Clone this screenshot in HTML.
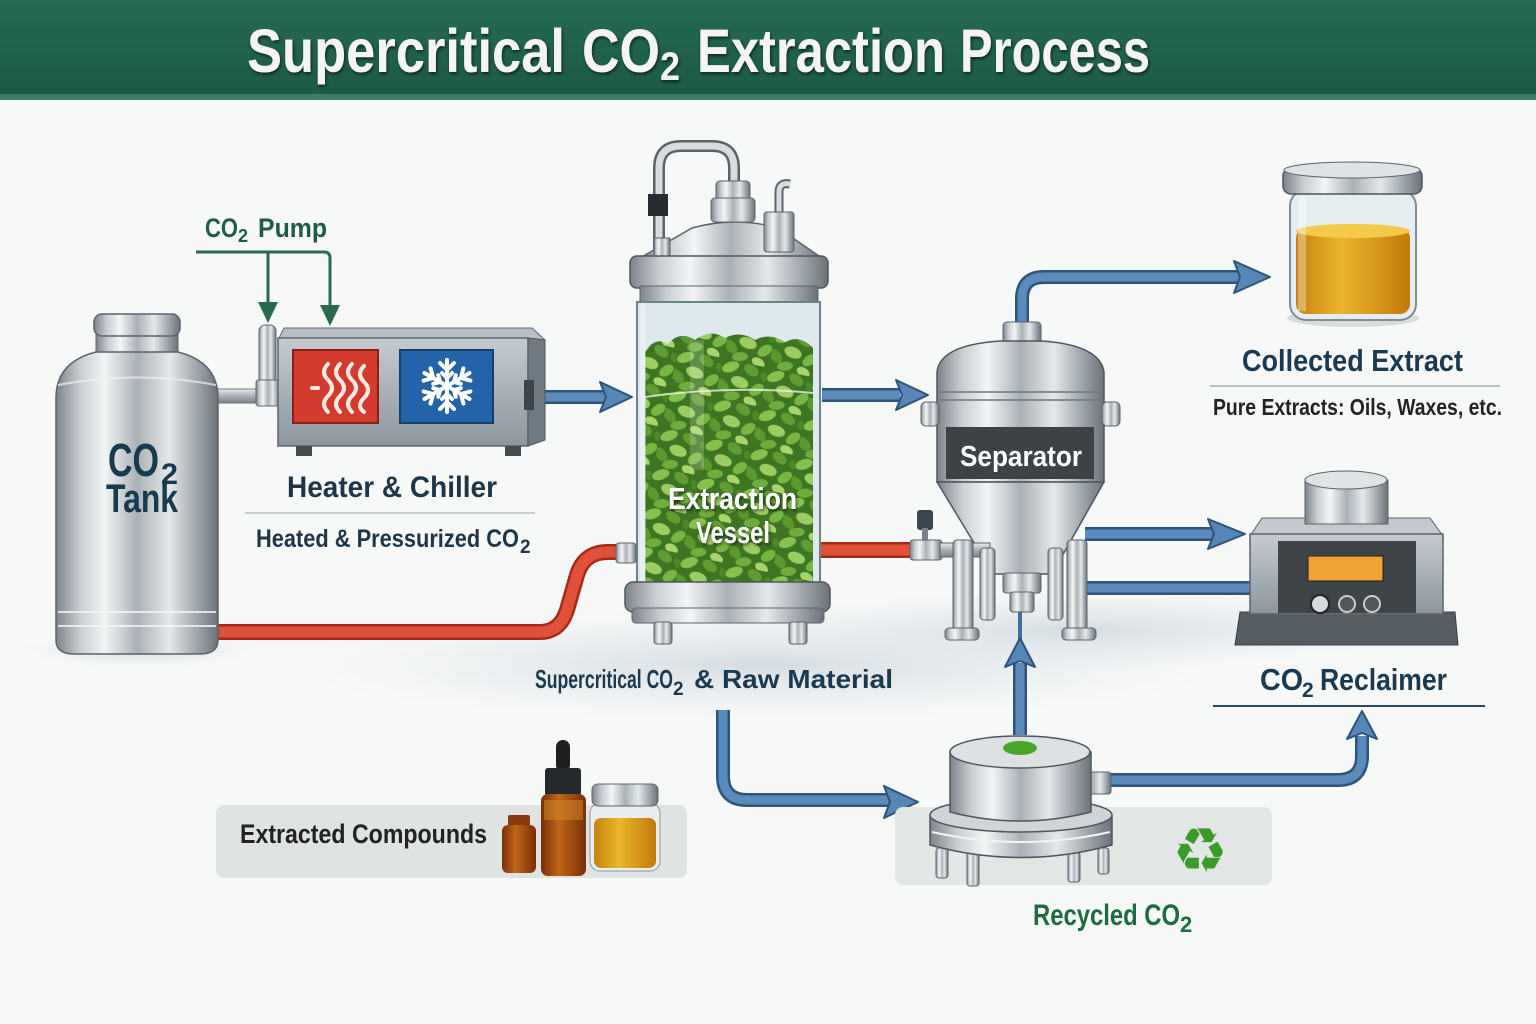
<!DOCTYPE html>
<html><head><meta charset="utf-8">
<style>
html,body{margin:0;padding:0;background:#f7f8f8;}
svg{display:block;}
text{font-family:"Liberation Sans Narrow","Liberation Sans",sans-serif;font-weight:bold;}
</style></head>
<body>
<svg width="1536" height="1024" viewBox="0 0 1536 1024" xmlns="http://www.w3.org/2000/svg">
<defs>
  <linearGradient id="hdr" x1="0" y1="0" x2="0" y2="1">
    <stop offset="0" stop-color="#256a52"/><stop offset="1" stop-color="#1c5a45"/>
  </linearGradient>
  <linearGradient id="metal" x1="0" y1="0" x2="1" y2="0">
    <stop offset="0" stop-color="#7d848a"/><stop offset="0.15" stop-color="#c9ced2"/>
    <stop offset="0.3" stop-color="#f3f5f6"/><stop offset="0.5" stop-color="#aab1b6"/>
    <stop offset="0.7" stop-color="#e4e8ea"/><stop offset="0.88" stop-color="#9aa1a7"/>
    <stop offset="1" stop-color="#6b7278"/>
  </linearGradient>
  <linearGradient id="metalv" x1="0" y1="0" x2="0" y2="1">
    <stop offset="0" stop-color="#e9ecee"/><stop offset="0.5" stop-color="#a9b0b5"/><stop offset="1" stop-color="#7a8187"/>
  </linearGradient>
  <linearGradient id="boxg" x1="0" y1="0" x2="0" y2="1">
    <stop offset="0" stop-color="#c5cbd0"/><stop offset="1" stop-color="#8d969e"/>
  </linearGradient>
  <linearGradient id="gold" x1="0" y1="0" x2="1" y2="0">
    <stop offset="0" stop-color="#c98110"/><stop offset="0.4" stop-color="#eab52c"/><stop offset="1" stop-color="#c27a0c"/>
  </linearGradient>
  <linearGradient id="amber" x1="0" y1="0" x2="1" y2="0">
    <stop offset="0" stop-color="#7a2e08"/><stop offset="0.4" stop-color="#c06616"/><stop offset="1" stop-color="#7a2e08"/>
  </linearGradient>
  <radialGradient id="floor" cx="0.5" cy="0.5" r="0.5">
    <stop offset="0" stop-color="#c9d3da" stop-opacity="0.75"/><stop offset="1" stop-color="#dfe6ea" stop-opacity="0"/>
  </radialGradient>
  <pattern id="leaves" width="46" height="40" patternUnits="userSpaceOnUse" patternTransform="rotate(12)">
    <rect width="46" height="40" fill="#3d7522"/>
    <ellipse cx="9" cy="7" rx="9" ry="5" fill="#86c150" transform="rotate(-30 9 7)"/>
    <ellipse cx="30" cy="6" rx="8" ry="5" fill="#5f9d33" transform="rotate(25 30 6)"/>
    <ellipse cx="21" cy="20" rx="9" ry="5.5" fill="#9ccd63" transform="rotate(10 21 20)"/>
    <ellipse cx="5" cy="27" rx="8" ry="5" fill="#5a9830" transform="rotate(40 5 27)"/>
    <ellipse cx="39" cy="24" rx="8" ry="5" fill="#78b644" transform="rotate(-45 39 24)"/>
    <ellipse cx="16" cy="35" rx="8" ry="4.5" fill="#6fae3d" transform="rotate(-15 16 35)"/>
    <ellipse cx="35" cy="37" rx="7" ry="4.5" fill="#a8d46c" transform="rotate(20 35 37)"/>
    <ellipse cx="44" cy="10" rx="5" ry="3.5" fill="#4c8a28" transform="rotate(60 44 10)"/>
  </pattern>
  <clipPath id="leafclip">
    <path d="M645,352 Q655,336 668,344 Q680,330 695,340 Q710,328 725,338 Q740,330 755,340 Q770,332 785,342 Q800,334 813,348 L813,592 L645,592 Z"/>
  </clipPath>
  <filter id="ts" x="-10%" y="-20%" width="120%" height="140%"><feDropShadow dx="1" dy="2" stdDeviation="1.5" flood-color="#000" flood-opacity="0.6"/></filter>
</defs>

<!-- background -->
<rect width="1536" height="1024" fill="#f7f8f8"/>
<ellipse cx="760" cy="665" rx="470" ry="55" fill="url(#floor)"/>
<ellipse cx="1080" cy="630" rx="330" ry="40" fill="url(#floor)"/>
<ellipse cx="140" cy="650" rx="120" ry="18" fill="url(#floor)"/>

<!-- header -->
<rect x="0" y="0" width="1536" height="97" fill="url(#hdr)"/>
<rect x="0" y="94" width="1536" height="6" fill="#3f7e63"/>
<g fill="#f4f4f2" filter="url(#ts)">
  <text x="247" y="72" font-size="61" textLength="318" lengthAdjust="spacingAndGlyphs">Supercritical</text>
  <text x="582" y="72" font-size="61" textLength="78" lengthAdjust="spacingAndGlyphs">CO</text>
  <text x="660" y="80" font-size="40" textLength="20" lengthAdjust="spacingAndGlyphs">2</text>
  <text x="697" y="72" font-size="61" textLength="248" lengthAdjust="spacingAndGlyphs">Extraction</text>
  <text x="960" y="72" font-size="61" textLength="190" lengthAdjust="spacingAndGlyphs">Process</text>
</g>

<!-- red pipe -->
<g fill="none" stroke-linecap="round" stroke-linejoin="round">
  <path d="M210,632 L540,632 Q560,632 567,610 L577,575 Q584,552 608,552 L628,552" stroke="#a52a18" stroke-width="16"/>
  <path d="M210,632 L540,632 Q560,632 567,610 L577,575 Q584,552 608,552 L628,552" stroke="#e0513a" stroke-width="11"/>
  <path d="M822,550 L915,550" stroke="#a52a18" stroke-width="16"/>
  <path d="M822,550 L915,550" stroke="#e0513a" stroke-width="11"/>
</g>

<!-- blue pipes -->
<g fill="none" stroke-linecap="butt" stroke-linejoin="round">
  <g stroke="#2e5478" stroke-width="14">
    <path d="M528,397 L605,397"/>
    <path d="M822,395 L900,395"/>
    <path d="M1022,322 L1022,299 Q1022,277 1044,277 L1240,277"/>
    <path d="M1085,534 L1214,534"/>
    <path d="M1085,588 L1254,588"/>
    <path d="M1020,735 L1020,663"/>
    <path d="M723,710 L723,776 Q723,800 747,800 L890,800"/>
    <path d="M1110,780 L1338,780 Q1362,780 1362,756 L1362,736"/>
  </g>
  <g stroke="#5a8bbb" stroke-width="9">
    <path d="M528,397 L605,397"/>
    <path d="M822,395 L900,395"/>
    <path d="M1022,322 L1022,299 Q1022,277 1044,277 L1240,277"/>
    <path d="M1085,534 L1214,534"/>
    <path d="M1085,588 L1254,588"/>
    <path d="M1020,735 L1020,663"/>
    <path d="M723,710 L723,776 Q723,800 747,800 L890,800"/>
    <path d="M1110,780 L1338,780 Q1362,780 1362,756 L1362,736"/>
  </g>
  <path d="M1020,612 L1020,640" stroke="#3f6f9e" stroke-width="4"/>
</g>
<g fill="#5586b6" stroke="#2e5478" stroke-width="2" stroke-linejoin="round">
  <polygon points="600,382 632,397 600,412 606,397"/>
  <polygon points="896,380 928,395 896,410 902,395"/>
  <polygon points="1234,261 1270,277 1234,293 1240,277"/>
  <polygon points="1208,519 1245,534 1208,549 1214,534"/>
  <polygon points="1005,667 1020,638 1035,667 1020,661"/>
  <polygon points="884,786 918,802 884,818 890,802"/>
  <polygon points="1347,739 1362,711 1377,739 1362,733"/>
</g>

<!-- CO2 pump label & green lines -->
<text x="205" y="237" font-size="27" fill="#1f5a4a" textLength="33" lengthAdjust="spacingAndGlyphs">CO</text>
<text x="238" y="242" font-size="18" fill="#1f5a4a">2</text>
<text x="258" y="237" font-size="27" fill="#1f5a4a" textLength="69" lengthAdjust="spacingAndGlyphs">Pump</text>
<g fill="none" stroke="#2a6b50" stroke-width="3">
  <path d="M196,252 L324,252 Q330,252 330,258 L330,308"/>
  <path d="M268,252 L268,305"/>
</g>
<g fill="#2a6b50">
  <polygon points="258,302 278,302 268,323"/>
  <polygon points="320,305 340,305 330,326"/>
</g>

<!-- tank to heater pipe -->
<rect x="216" y="389" width="62" height="14" fill="url(#metalv)" stroke="#6e767c" stroke-width="1"/>
<rect x="259" y="325" width="17" height="80" rx="6" fill="url(#metal)" stroke="#5f676d" stroke-width="1"/>
<rect x="256" y="380" width="24" height="26" rx="3" fill="url(#metal)" stroke="#5f676d" stroke-width="1"/>

<!-- CO2 Tank -->
<rect x="96" y="320" width="82" height="38" fill="url(#metal)" stroke="#666" stroke-width="1"/>
<rect x="94" y="314" width="86" height="22" rx="8" fill="url(#metal)" stroke="#5c636a" stroke-width="1.5"/>
<path d="M56,640 L56,398 Q56,362 96,352 L178,352 Q218,362 218,398 L218,640 Q218,654 200,654 L74,654 Q56,654 56,640 Z" fill="url(#metal)" stroke="#5c636a" stroke-width="1.5"/>
<path d="M58,612 L216,612 M58,626 L216,626" stroke="#f5f7f8" stroke-width="2" opacity="0.8"/>
<path d="M58,385 Q137,370 216,385" stroke="#f0f2f3" stroke-width="2" fill="none" opacity="0.7"/>
<text x="108" y="476" font-size="46" fill="#173a4e" textLength="51" lengthAdjust="spacingAndGlyphs">CO</text>
<text x="161" y="484" font-size="30" fill="#173a4e" textLength="17" lengthAdjust="spacingAndGlyphs">2</text>
<text x="106" y="512" font-size="40" fill="#173a4e" textLength="72" lengthAdjust="spacingAndGlyphs">Tank</text>

<!-- Heater & Chiller box -->
<polygon points="284,328 532,328 545,340 278,340" fill="#b7bec4" stroke="#5d666e" stroke-width="1"/>
<rect x="278" y="338" width="250" height="108" fill="url(#boxg)" stroke="#5d666e" stroke-width="1.5"/>
<polygon points="528,338 545,340 545,440 528,446" fill="#6f7981" stroke="#4f575e" stroke-width="1"/>
<rect x="524" y="380" width="10" height="30" fill="#3d4449"/>
<rect x="296" y="446" width="16" height="10" fill="#444b51"/>
<rect x="505" y="446" width="16" height="10" fill="#444b51"/>
<rect x="293" y="350" width="85" height="73" fill="#d33b2e" stroke="#8c1e17" stroke-width="2"/>
<g fill="none" stroke="#fbe9e4" stroke-width="4" stroke-linecap="round">
  <path d="M328,364 Q320,372 328,380 Q336,388 328,396 Q320,404 328,412"/>
  <path d="M340,364 Q332,372 340,380 Q348,388 340,396 Q332,404 340,412"/>
  <path d="M352,364 Q344,372 352,380 Q360,388 352,396 Q344,404 352,412"/>
  <path d="M364,366 Q356,374 364,382 Q372,390 364,398 Q356,406 364,412"/>
  <path d="M312,388 L318,388"/>
</g>
<rect x="400" y="350" width="93" height="73" fill="#2563a9" stroke="#173e70" stroke-width="2"/>
<g stroke="#ffffff" stroke-width="4" stroke-linecap="round" fill="none" transform="translate(447,386)">
  <g id="arm"><path d="M0,0 L0,-26 M0,-16 L-7,-23 M0,-16 L7,-23 M0,-8 L-5,-13 M0,-8 L5,-13"/></g>
  <use href="#arm" transform="rotate(60)"/>
  <use href="#arm" transform="rotate(120)"/>
  <use href="#arm" transform="rotate(180)"/>
  <use href="#arm" transform="rotate(240)"/>
  <use href="#arm" transform="rotate(300)"/>
</g>
<text x="287" y="497" font-size="30" fill="#1e3547" textLength="210" lengthAdjust="spacingAndGlyphs">Heater &amp; Chiller</text>
<line x1="245" y1="513" x2="535" y2="513" stroke="#b9c0c5" stroke-width="1.5"/>
<text x="256" y="547" font-size="25" fill="#1e3547" textLength="263" lengthAdjust="spacingAndGlyphs">Heated &amp; Pressurized CO</text>
<text x="520" y="553" font-size="19" fill="#1e3547">2</text>

<!-- Extraction vessel -->
<g fill="none" stroke-linecap="round">
  <path d="M659,250 L659,168 Q659,146 681,146 L712,146 Q734,146 734,168 L734,185" stroke="#5b6369" stroke-width="12"/>
  <path d="M659,250 L659,168 Q659,146 681,146 L712,146 Q734,146 734,168 L734,185" stroke="#d7dcdf" stroke-width="7"/>
</g>
<rect x="648" y="194" width="20" height="22" fill="#262b2f"/>
<path d="M640,258 L692,228 Q735,216 778,228 L822,258 Z" fill="url(#metal)" stroke="#5c636a" stroke-width="1.5"/>
<rect x="716" y="181" width="34" height="20" rx="4" fill="url(#metal)" stroke="#5c636a"/>
<rect x="711" y="198" width="44" height="24" rx="4" fill="url(#metal)" stroke="#5c636a"/>
<path d="M779,215 L779,192 Q779,182 790,184" stroke="#5c636a" stroke-width="9" fill="none"/>
<path d="M779,215 L779,192 Q779,182 790,184" stroke="#d7dcdf" stroke-width="5" fill="none"/>
<rect x="764" y="212" width="30" height="40" rx="3" fill="url(#metal)" stroke="#5c636a"/>
<rect x="654" y="238" width="16" height="20" fill="url(#metal)" stroke="#5c636a"/>
<rect x="630" y="256" width="198" height="32" rx="7" fill="url(#metal)" stroke="#4f575e" stroke-width="1.5"/>
<rect x="640" y="286" width="178" height="18" fill="url(#metal)" stroke="#5c636a"/>
<rect x="637" y="302" width="183" height="288" fill="#dde9ec" stroke="#6d8289" stroke-width="2"/>
<rect x="645" y="330" width="168" height="262" fill="url(#leaves)" clip-path="url(#leafclip)"/>
<path d="M645,397 Q730,385 813,393" stroke="#e7f3dc" stroke-width="2" fill="none" opacity="0.8"/>
<rect x="690" y="340" width="14" height="130" fill="#ffffff" opacity="0.18"/>
<rect x="640" y="305" width="6" height="283" fill="#ffffff" opacity="0.35"/>
<rect x="616" y="543" width="20" height="20" rx="3" fill="url(#metal)" stroke="#5c636a"/>
<rect x="625" y="582" width="205" height="30" rx="8" fill="url(#metal)" stroke="#4f575e" stroke-width="1.5"/>
<rect x="632" y="608" width="192" height="15" rx="4" fill="url(#metal)" stroke="#5c636a"/>
<rect x="654" y="622" width="18" height="22" rx="3" fill="url(#metal)" stroke="#5c636a"/>
<rect x="789" y="622" width="18" height="22" rx="3" fill="url(#metal)" stroke="#5c636a"/>
<g fill="#ffffff" filter="url(#ts)">
  <text x="668" y="509" font-size="31" textLength="129" lengthAdjust="spacingAndGlyphs">Extraction</text>
  <text x="696" y="543" font-size="31" textLength="74" lengthAdjust="spacingAndGlyphs">Vessel</text>
</g>

<!-- Separator -->
<rect x="1003" y="322" width="38" height="24" rx="4" fill="url(#metal)" stroke="#5c636a"/>
<path d="M937,482 L937,372 Q940,345 1000,341 L1042,341 Q1100,345 1104,372 L1104,482 Z" fill="url(#metal)" stroke="#4f575e" stroke-width="1.5"/>
<path d="M939,392 L1102,392 M939,400 L1102,400" stroke="#6f777d" stroke-width="1.5"/>
<path d="M937,482 L1104,482 L1052,574 L993,574 Z" fill="url(#metal)" stroke="#4f575e" stroke-width="1.5"/>
<rect x="1003" y="573" width="38" height="20" rx="3" fill="url(#metal)" stroke="#5c636a"/>
<rect x="1010" y="592" width="24" height="20" rx="3" fill="url(#metal)" stroke="#5c636a"/>
<rect x="921" y="402" width="18" height="24" rx="5" fill="url(#metal)" stroke="#5c636a"/>
<rect x="1102" y="402" width="18" height="24" rx="5" fill="url(#metal)" stroke="#5c636a"/>
<rect x="946" y="427" width="148" height="52" fill="#3c4246"/>
<text x="960" y="466" font-size="29" fill="#ffffff" textLength="122" lengthAdjust="spacingAndGlyphs">Separator</text>
<rect x="917" y="510" width="16" height="20" rx="3" fill="#3b464e"/>
<rect x="922" y="528" width="6" height="14" fill="#7b848a"/>
<rect x="910" y="540" width="32" height="20" rx="3" fill="url(#metal)" stroke="#5c636a"/>
<rect x="940" y="543" width="50" height="14" fill="url(#metalv)" stroke="#5c636a"/>
<rect x="953" y="540" width="20" height="92" rx="4" fill="url(#metal)" stroke="#5c636a"/>
<rect x="980" y="548" width="15" height="72" rx="4" fill="url(#metal)" stroke="#5c636a"/>
<rect x="1048" y="548" width="15" height="72" rx="4" fill="url(#metal)" stroke="#5c636a"/>
<rect x="1067" y="540" width="20" height="92" rx="4" fill="url(#metal)" stroke="#5c636a"/>
<rect x="945" y="628" width="34" height="12" rx="4" fill="url(#metal)" stroke="#5c636a"/>
<rect x="1062" y="628" width="34" height="12" rx="4" fill="url(#metal)" stroke="#5c636a"/>

<!-- Collected extract jar -->
<ellipse cx="1353" cy="318" rx="66" ry="9" fill="#c9d0d4" opacity="0.7"/>
<rect x="1290" y="190" width="126" height="130" rx="16" fill="#e6eef1" stroke="#7f8d93" stroke-width="2"/>
<rect x="1296" y="228" width="114" height="86" rx="10" fill="url(#gold)"/>
<ellipse cx="1353" cy="231" rx="57" ry="7" fill="#f5c94a"/>
<rect x="1298" y="196" width="8" height="115" fill="#ffffff" opacity="0.35"/>
<rect x="1283" y="168" width="139" height="26" rx="8" fill="url(#metal)" stroke="#4f575e" stroke-width="1.5"/>
<ellipse cx="1352" cy="170" rx="68" ry="8" fill="#dfe3e6" stroke="#5c636a"/>
<text x="1242" y="371" font-size="31" fill="#1b3a4f" textLength="221" lengthAdjust="spacingAndGlyphs">Collected Extract</text>
<line x1="1210" y1="386" x2="1500" y2="386" stroke="#9fb0b8" stroke-width="1.5"/>
<text x="1213" y="415" font-size="23" fill="#222" textLength="289" lengthAdjust="spacingAndGlyphs">Pure Extracts: Oils, Waxes, etc.</text>

<!-- CO2 Reclaimer -->
<polygon points="1240,612 1455,612 1458,645 1235,645" fill="#555c62" stroke="#3a4045"/>
<polygon points="1262,518 1430,518 1443,536 1250,536" fill="#c3c9ce" stroke="#5c636a"/>
<rect x="1250" y="534" width="193" height="80" fill="url(#boxg)" stroke="#5c636a" stroke-width="1.5"/>
<rect x="1278" y="541" width="138" height="72" fill="#3e4448"/>
<rect x="1308" y="556" width="75" height="25" fill="#f0a234" stroke="#222"/>
<circle cx="1320" cy="604" r="9" fill="#d5dade" stroke="#222" stroke-width="2"/>
<circle cx="1347" cy="604" r="8" fill="#555" stroke="#ccc" stroke-width="2"/>
<circle cx="1372" cy="604" r="8" fill="#555" stroke="#ccc" stroke-width="2"/>
<rect x="1305" y="480" width="83" height="44" fill="url(#metal)" stroke="#5c636a"/>
<ellipse cx="1346" cy="480" rx="41" ry="9" fill="#dfe3e6" stroke="#5c636a"/>
<text x="1260" y="690" font-size="31" fill="#1b3a4f" textLength="43" lengthAdjust="spacingAndGlyphs">CO</text>
<text x="1302" y="697" font-size="21" fill="#1b3a4f">2</text>
<text x="1320" y="690" font-size="31" fill="#1b3a4f" textLength="127" lengthAdjust="spacingAndGlyphs">Reclaimer</text>
<line x1="1213" y1="706" x2="1485" y2="706" stroke="#2c4a5e" stroke-width="2"/>

<!-- Supercritical label -->
<text x="535" y="688" font-size="26" fill="#1b3a4f" textLength="138" lengthAdjust="spacingAndGlyphs">Supercritical CO</text>
<text x="673" y="695" font-size="19" fill="#1b3a4f">2</text>
<text x="694" y="688" font-size="26" fill="#1b3a4f" textLength="199" lengthAdjust="spacingAndGlyphs">&amp; Raw Material</text>

<!-- Extracted Compounds -->
<rect x="216" y="805" width="471" height="73" rx="8" fill="#dfe3e1"/>
<text x="240" y="843" font-size="27" fill="#222" textLength="247" lengthAdjust="spacingAndGlyphs">Extracted Compounds</text>
<rect x="508" y="815" width="22" height="12" rx="2" fill="#8a3a12"/>
<rect x="502" y="825" width="34" height="48" rx="6" fill="url(#amber)"/>
<rect x="556" y="740" width="14" height="32" rx="7" fill="#1d1f21"/>
<rect x="545" y="768" width="36" height="28" rx="3" fill="#26292b"/>
<rect x="541" y="794" width="45" height="82" rx="7" fill="url(#amber)"/>
<rect x="544" y="800" width="39" height="20" fill="#d48a2a" opacity="0.5"/>
<rect x="590" y="803" width="70" height="68" rx="10" fill="#e9eef0" stroke="#8b969b"/>
<rect x="594" y="818" width="62" height="50" rx="7" fill="url(#gold)"/>
<rect x="592" y="784" width="66" height="22" rx="6" fill="url(#metal)" stroke="#5c636a"/>

<!-- Recycled CO2 -->
<rect x="895" y="807" width="377" height="78" rx="8" fill="#e2e6e4"/>
<rect x="1075" y="772" width="36" height="22" rx="3" fill="url(#metal)" stroke="#5c636a"/>
<circle cx="1080" cy="790" r="8" fill="#b8bec3" stroke="#4b5258"/>
<rect x="936" y="848" width="12" height="30" rx="3" fill="url(#metal)" stroke="#5c636a"/>
<rect x="967" y="852" width="12" height="34" rx="3" fill="url(#metal)" stroke="#5c636a"/>
<rect x="1068" y="852" width="12" height="30" rx="3" fill="url(#metal)" stroke="#5c636a"/>
<rect x="1098" y="848" width="11" height="26" rx="3" fill="url(#metal)" stroke="#5c636a"/>
<path d="M930,815 L930,845 Q1021,870 1112,845 L1112,815 Z" fill="url(#metal)" stroke="#4f575e" stroke-width="1.5"/>
<ellipse cx="1021" cy="815" rx="91" ry="17" fill="#cfd4d8" stroke="#4f575e" stroke-width="1.5"/>
<path d="M932,832 Q1021,852 1110,832" stroke="#f2f4f5" stroke-width="2" fill="none"/>
<path d="M950,752 L950,812 Q1020,830 1091,812 L1091,752 Z" fill="url(#metal)" stroke="#4f575e" stroke-width="1.5"/>
<ellipse cx="1020" cy="752" rx="70" ry="16" fill="#dde1e4" stroke="#4f575e" stroke-width="1.5"/>
<ellipse cx="1020" cy="748" rx="17" ry="7" fill="#4aa62a"/>
<text x="1200" y="872" font-size="62" fill="#3a9a2a" text-anchor="middle" style="font-family:'DejaVu Sans',sans-serif;font-weight:normal">♻</text>
<text x="1033" y="925" font-size="30" fill="#1d6b3f" textLength="147" lengthAdjust="spacingAndGlyphs">Recycled CO</text>
<text x="1180" y="932" font-size="22" fill="#1d6b3f">2</text>
</svg>
</body></html>
